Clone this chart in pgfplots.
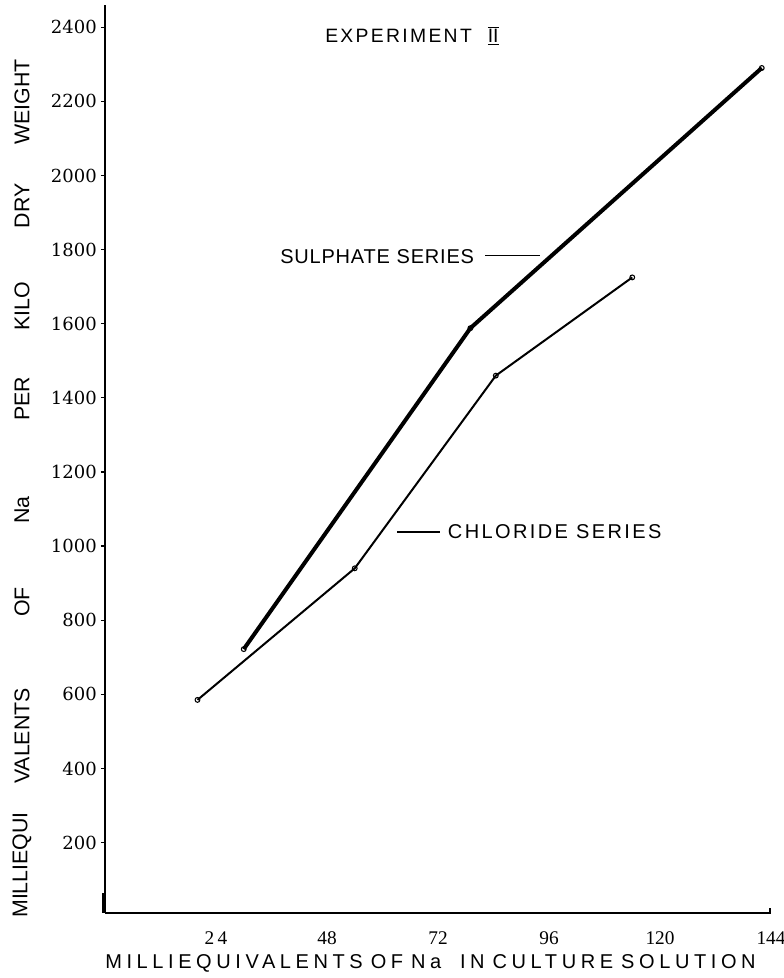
\documentclass[border=0pt]{standalone}
\usepackage{fontspec}
\setmainfont{Liberation Sans}
\newfontfamily\tickyfont{DejaVu Serif}
\newfontfamily\tickxfont{Liberation Serif}
\newfontfamily\lightspacedfont[LetterSpace=4]{Liberation Sans}
\newfontfamily\spacedfont[LetterSpace=12]{Liberation Sans}
\newfontfamily\wspacedfont[LetterSpace=23]{Liberation Sans}
\usepackage{pgfplots}
\pgfplotsset{compat=1.18}
\begin{document}
\begin{tikzpicture}[x=1pt,y=1pt]
\useasboundingbox (-78.75,-48.75) rectangle (509.25,684.75);
\begin{axis}[
  at={(0,0)}, anchor=south west,
  scale only axis, width=499.5pt, height=681pt,
  xmin=0, xmax=144, ymin=10, ymax=2460,
  axis x line=bottom, axis y line=left,
  axis line style={-, line width=2.2pt},
  xtick={24,48,72,96,120,144},
  xticklabels={2\,4,48,72,96,120,144},
  ytick={200,400,...,2400},
  x tick style={draw=none},
  y tick style={black, line width=0.9pt},
  tick align=outside, major tick length=3pt,
  /pgf/number format/assume math mode=true,
  /pgf/number format/1000 sep={},
  yticklabel style={font=\tickyfont\fontsize{13.5}{14}\selectfont, inner sep=0pt, xshift=-3pt},
  xticklabel style={font=\tickxfont\fontsize{14.5}{15}\selectfont, inner sep=0pt, yshift=-11pt},
  clip=false,
]
% Sulphate series
\addplot[black, line width=3pt, mark=o, mark size=1.8pt, mark options={line width=0.8pt, fill=white}]
  coordinates {(30,722) (79,1588) (142,2290)};
% Chloride series
\addplot[black, line width=1.5pt, mark=o, mark size=1.8pt, mark options={line width=0.8pt, fill=white}]
  coordinates {(20,585) (54,940) (84.5,1460) (114,1725)};
\end{axis}
% small doubled stroke at the bottom-left corner
\draw[line width=1.2pt] (-1.5,0) -- (-1.5,15);
% small upward hook at the right end of the x axis
\draw[line width=1.5pt] (498.5,0) -- (498.5,4);
% y axis label words
\begin{scope}[every node/.style={rotate=90, font=\fontsize{16}{16}\selectfont, inner sep=0pt}]
\node at (-62.25,608.25) {WEIGHT};
\node at (-62.25,530.25) {DRY};
\node at (-62.25,455.25) {KILO};
\node at (-62.25,385.5) {PER};
\node at (-62.25,302.25) {Na};
\node at (-62.25,233.25) {OF};
\node at (-62.25,132.75) {VALENTS};
\node at (-62.25,36) {MILLIEQUI};
\end{scope}
% title
\node[anchor=west, inner sep=0pt, font=\spacedfont\fontsize{14.5}{15}\selectfont] at (165,657.75)
  {EXPERIMENT\hspace{12pt}{\rmfamily $\overline{\underline{\mathrm{II}}}$}};
% annotations
\node[anchor=west, inner sep=0pt, font=\lightspacedfont\fontsize{15}{15}\selectfont] at (131.25,492) {SULPHATE\hspace{5pt}SERIES};
\draw[line width=1.2pt] (285,493) -- (326.25,493);
\node[anchor=west, inner sep=0pt, font=\spacedfont\fontsize{15}{15}\selectfont] at (257,285.75) {CHLORIDE\hspace{6pt}SERIES};
\draw[line width=1pt] (219,285.75) -- (251.25,285.75);
% x label
\node[anchor=west, inner sep=0pt, font=\wspacedfont\fontsize{15}{15}\selectfont] at (0,-37.5)
  {MILLIEQUIVALENTS\hspace{6pt}OF\hspace{6pt}Na\hspace{14pt}IN\hspace{6pt}CULTURE\hspace{6pt}SOLUTION};
\end{tikzpicture}
\end{document}
